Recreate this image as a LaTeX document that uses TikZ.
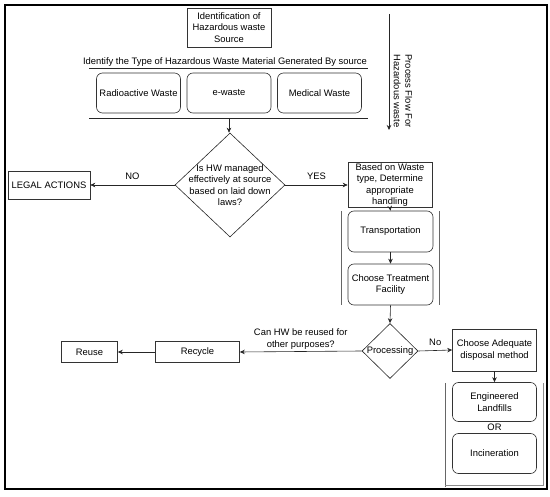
\documentclass[tikz,border=0pt]{standalone}
\usepackage{fontspec}
\setmainfont{Liberation Sans}
\usetikzlibrary{shapes.geometric,arrows.meta}
\begin{document}
\begin{tikzpicture}[x=1pt,y=-1pt,
  font=\fontsize{9.4}{11.3}\selectfont,
  ln/.style={line width=0.6pt, draw=black!85},
  arr/.style={ln, -{Stealth[length=5pt,width=4.5pt]}},
  sq/.style={draw=black!80, line width=0.6pt, inner sep=1pt, align=center, minimum width=#1},
  rbox/.style={sq=#1, rounded corners=6pt},
  grp/.style={draw=black!60, line width=0.7pt},
  lbl/.style={inner sep=1pt, align=center},
  dia/.style={diamond, draw=black!85, line width=0.6pt, inner sep=0pt, aspect=1}
]
\useasboundingbox (0,0) rectangle (550,497);
% frame
\draw[line width=2pt, black] (5,5.5) rectangle (547,489);

% top
\node[sq=84, minimum height=39] (src) at (229,27.5) {Identification of\\Hazardous waste\\Source};
\node[lbl] (idtext) at (225,62) {Identify the Type of Hazardous Waste Material Generated By source};
\coordinate (sepAl) at (89,68);
\coordinate (sepAr) at (368,68);
\draw[ln] (sepAl) -- (sepAr);
\node[rbox=84, minimum height=40] (rad) at (138.5,93) {Radioactive Waste};
\node[rbox=84, minimum height=40] (ew) at (229,93) {e-waste};
\node[rbox=84, minimum height=40] (med) at (319.5,93) {Medical Waste};
\coordinate (sepBl) at (89,118);
\coordinate (sepBr) at (368,118);
\coordinate (sepB) at (229,118);
\draw[ln] (sepBl) -- (sepBr);

% process flow arrow
\coordinate (pfTop) at (389,14);
\coordinate (pfBot) at (389,130);
\draw[arr] (pfTop) -- (pfBot);
\node[lbl, rotate=-90] (pftext) at (403,91) {Process Flow For\\Hazardous waste};

% decision 1
\node[dia, minimum width=110, minimum height=104] (q1) at (230,185) {};
\node[lbl] (q1text) at (q1.center) {Is HW managed\\effectively at source\\based on laid down\\laws?};
\draw[arr] (sepB) -- (sepB |- q1.north);

\node[sq=82, minimum height=28] (legal) at (49,185) {LEGAL ACTIONS};
\draw[arr] (q1.west) -- node[lbl, above=4pt] (nolbl) {NO} (legal.east);

\node[sq=84, minimum height=41] (based) at (390,185) {Based on Waste\\type, Determine\\appropriate\\handling};
\draw[arr] (q1.east) -- node[lbl, above=4pt] (yeslbl) {YES} (based.west);

% transport group
\node[rbox=85, minimum height=41] (trans) at (390.5,231.5) {Transportation};
\node[rbox=85, minimum height=41] (treat) at (390.5,284.5) {Choose Treatment\\Facility};
\draw[grp] (341,211) -- (341,305);
\draw[grp] (439,211) -- (439,305);
\draw[arr] (based.south) -- (trans.north);
\draw[arr] (trans.south) -- (treat.north);

% processing
\node[dia, minimum width=56, minimum height=55] (proc) at (390,351) {};
\node[lbl] (proctext) at (proc.center) {Processing};
\draw[arr] (treat.south) -- (proc.north);

\node[sq=84, minimum height=21] (recycle) at (197.5,352) {Recycle};
\node[sq=56, minimum height=21] (reuse) at (89.5,352) {Reuse};
\draw[arr] (proc.west) -- node[lbl, above=1pt] (canlbl) {Can HW be reused for\\other purposes?} (recycle.east);
\draw[arr] (recycle.west) -- (reuse.east);

\node[sq=84, minimum height=42] (adeq) at (494.5,350) {Choose Adequate\\disposal method};
\draw[arr] (proc.east) -- node[lbl, above=4pt] (nolbl2) {No} (adeq.west);

\node[rbox=84, minimum height=39] (eng) at (494.5,402) {Engineered\\Landfills};
\node[lbl] (orlbl) at (494.5,427.5) {OR};
\node[rbox=84, minimum height=40] (inc) at (494.5,453.5) {Incineration};
\draw[arr] (adeq.south) -- (eng.north);
\draw[grp] (445,383) -- (445,487) ;
\draw[draw=black!45, line width=0.7pt] (445,485) -- (543,485) -- (543,383);
\end{tikzpicture}
\end{document}
